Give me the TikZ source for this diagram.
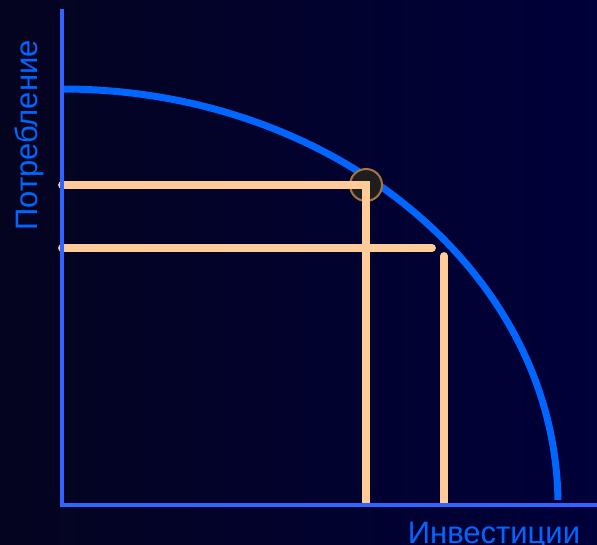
\documentclass[tikz,border=0pt]{standalone}
\usepackage{fontspec}
\setmainfont{Liberation Sans}
\definecolor{bgleft}{RGB}{4,4,32}
\definecolor{bgright}{RGB}{0,0,58}
\definecolor{axisblue}{RGB}{50,100,255}
\definecolor{curveblue}{RGB}{0,102,255}
\definecolor{peach}{RGB}{255,204,153}
\definecolor{dotfill}{RGB}{30,30,30}
\definecolor{dotedge}{RGB}{168,116,64}
\begin{document}
\begin{tikzpicture}[x=1pt,y=-1pt,
  axisline/.style={draw=axisblue,line width=4.3pt},
  ppf/.style={draw=curveblue,line width=7pt},
  guide/.style={draw=peach,line width=7.8pt,line cap=round},
  lbl/.style={text=curveblue,font=\fontsize{31}{36}\selectfont,inner sep=0pt}]
\useasboundingbox (0,0) rectangle (597,545);
\shade[left color=bgleft,right color=bgright] (0,0) rectangle (597,545);
% coordinates
\coordinate (O) at (62,505);
\coordinate (ytop) at (62,9);
\coordinate (xend) at (597,505);
\coordinate (A) at (366,185);
\coordinate (A0) at (62,185);
\coordinate (Ab) at (366,503);
\coordinate (B0) at (62,248);
\coordinate (B1) at (432,248);
\coordinate (Ct) at (444,256);
\coordinate (Cb) at (444,503);
% production possibility curve
\draw[ppf] (62,89) arc[start angle=90,end angle=0.7,x radius=496,y radius=-416];
% point
\node[circle,fill=dotfill,draw=dotedge,line width=2pt,minimum size=32pt,inner sep=0pt] (dot) at (A) {};
% guide lines
\draw[guide] (A0) -- (A) -- (Ab);
\draw[guide] (B0) -- (B1);
\draw[guide] (Ct) -- (Cb);
% axes
\draw[axisline] (ytop) -- (62,507);
\draw[axisline] (60,505) -- (xend);
% labels
\node[lbl,rotate=90,anchor=base] (ylab) at (37,135.5) {Потребление};
\node[lbl,anchor=base] (xlab) at (494,543) {Инвестиции};
\end{tikzpicture}
\end{document}
